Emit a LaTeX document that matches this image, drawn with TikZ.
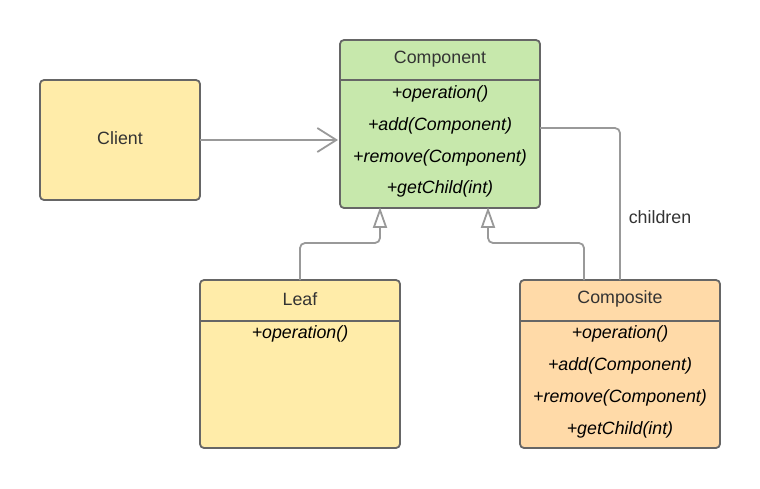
\documentclass[tikz,border=0pt]{standalone}
\usepackage{fontspec}
\setmainfont{Liberation Sans}
\usetikzlibrary{arrows.meta}
\definecolor{gfill}{HTML}{C7E8AC}
\definecolor{yfill}{HTML}{FFECA9}
\definecolor{ofill}{HTML}{FFDAA8}
\definecolor{bord}{HTML}{666666}
\definecolor{conn}{HTML}{999999}
\definecolor{ttl}{HTML}{333333}
\tikzset{
  box/.style={draw=bord, line width=1.8pt, rounded corners=4pt, inner sep=0pt},
  ttl/.style={text=ttl, font=\fontsize{17.8}{20}\selectfont, inner sep=0pt, anchor=center},
  op/.style={text=black, font=\fontsize{17.8}{20}\selectfont\itshape, inner sep=0pt, anchor=center},
  sep/.style={draw=bord, line width=1.8pt},
  conn/.style={draw=conn, line width=1.8pt},
  tri/.style={draw=conn, fill=white, line width=1.8pt, line join=miter},
  barb/.style={arrows={-Straight Barb[length=19pt, width=24pt]}},
}
\begin{document}
\begin{tikzpicture}[x=1pt,y=-1pt]
\useasboundingbox (0,0) rectangle (760,488);
% Client
\draw[box, fill=yfill] (40,80) rectangle (200,200);
\node[ttl] (client) at (120,138) {Client};
\coordinate (clientE) at (200,140);
% Component
\draw[box, fill=gfill] (340,40) rectangle (540,208);
\draw[sep] (340,80) -- (540,80);
\node[ttl] (comp) at (440,59) {Component};
\node[op] (c1) at (440,94) {+operation()};
\node[op] (c2) at (440,126) {+add(Component)};
\node[op] (c3) at (440,158) {+remove(Component)};
\node[op] (c4) at (440,189) {+getChild(int)};
\coordinate (compW) at (338,140);
\coordinate (compS1) at (380,210);
\coordinate (compS2) at (488,210);
\coordinate (compE) at (540,128);
% Leaf
\draw[box, fill=yfill] (200,280) rectangle (400,448);
\draw[sep] (200,321) -- (400,321);
\node[ttl] (leaf) at (300,299) {Leaf};
\node[op] (l1) at (300,334) {+operation()};
\coordinate (leafN) at (300,280);
% Composite
\draw[box, fill=ofill] (520,280) rectangle (720,448);
\draw[sep] (520,321) -- (720,321);
\node[ttl] (compo) at (620,299) {Composite};
\node[op] (o1) at (620,334) {+operation()};
\node[op] (o2) at (620,366) {+add(Component)};
\node[op] (o3) at (620,398) {+remove(Component)};
\node[op] (o4) at (620,430) {+getChild(int)};
\coordinate (compoN1) at (584,280);
\coordinate (compoN2) at (620,280);
% connectors
\coordinate (k1) at (380,227);
\coordinate (k2) at (488,227);
\draw[conn, barb] (clientE) -- (compW);
\draw[conn, rounded corners=5pt] (leafN) -- (300,243) -- (380,243) -- (k1);
\draw[tri] (compS1) -- ([xshift=-6pt]k1) -- ([xshift=6pt]k1) -- cycle;
\draw[conn, rounded corners=5pt] (compoN1) -- (584,243) -- (488,243) -- (k2);
\draw[tri] (compS2) -- ([xshift=-6pt]k2) -- ([xshift=6pt]k2) -- cycle;
\draw[conn, rounded corners=5pt] (compE) -- (620,128) -- (compoN2);
\node[ttl] (lbl) at (660,217) {children};
\end{tikzpicture}
\end{document}
